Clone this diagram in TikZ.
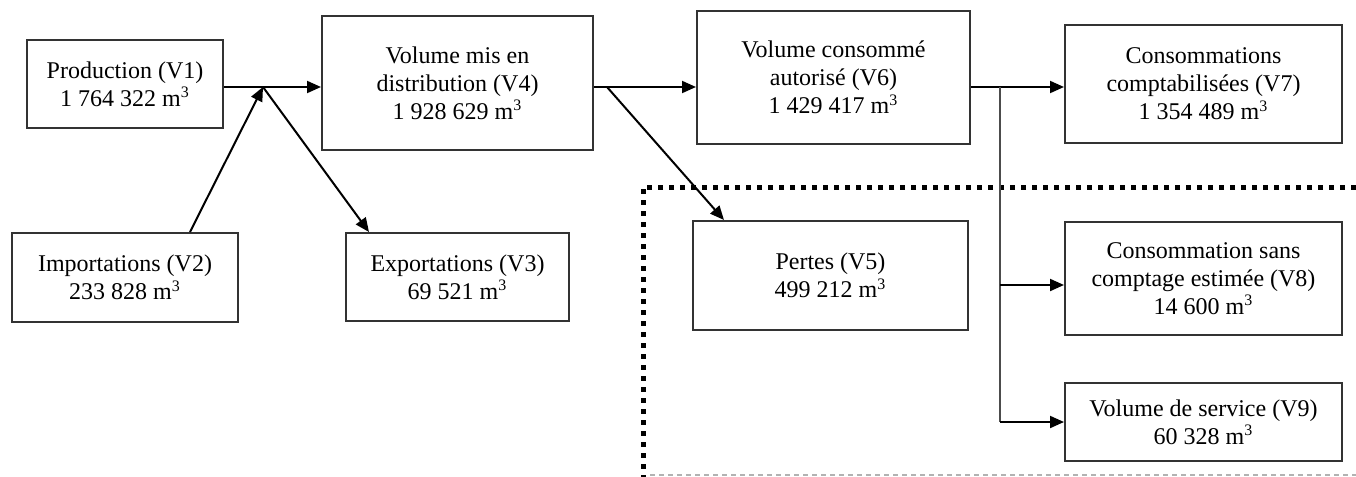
\documentclass[tikz,border=0pt]{standalone}
\usepackage{fontspec}
\setmainfont{Liberation Serif}
\usetikzlibrary{arrows.meta,calc}
\begin{document}
\begin{tikzpicture}[x=0.5pt,y=-0.5pt,
  box/.style={draw=black!80,line width=1pt,fill=white,align=center,inner sep=0pt,
    font=\fontsize{12}{14}\selectfont},
  arr/.style={draw=black,line width=1pt,-{Triangle[length=7pt,width=6pt]}},
  vln/.style={draw=black!70,line width=1pt},
  dotframe/.style={draw=black,line width=2.5pt,dash pattern=on 2.5pt off 3pt},
  bottomdash/.style={draw=black!30,line width=0.8pt,dash pattern=on 2.5pt off 2pt}]
\useasboundingbox (0,0) rectangle (1356,477);
% dotted frame
\draw[dotframe] (1356,187) -- (643,187) -- (643,477);
\draw[bottomdash] (650,475) -- (1356,475);
% boxes
\node[box,minimum width=98pt,minimum height=44pt] (V1) at (125,84) {Production (V1)\\1 764 322 m\textsuperscript{3}};
\node[box,minimum width=113pt,minimum height=44.5pt] (V2) at (125,277.5) {Importations (V2)\\233 828 m\textsuperscript{3}};
\node[box,minimum width=111.5pt,minimum height=44pt] (V3) at (457.5,277) {Exportations (V3)\\69 521 m\textsuperscript{3}};
\node[box,minimum width=135.5pt,minimum height=67pt] (V4) at (457.5,83) {Volume mis en\\distribution (V4)\\1 928 629 m\textsuperscript{3}};
\node[box,minimum width=137.5pt,minimum height=54.5pt] (V5) at (830.5,275.5) {Pertes (V5)\\499 212 m\textsuperscript{3}};
\node[box,minimum width=136.5pt,minimum height=66.5pt] (V6) at (833.5,77.5) {\raisebox{-2pt}{\parbox{130pt}{\centering Volume consommé\\autorisé (V6)\\1 429 417 m\textsuperscript{3}}}};
\node[box,minimum width=138.5pt,minimum height=59pt] (V7) at (1203.5,84) {Consommations\\comptabilisées (V7)\\1 354 489 m\textsuperscript{3}};
\node[box,minimum width=138.5pt,minimum height=56.5pt] (V8) at (1203.5,278.5) {Consommation sans\\comptage estimée (V8)\\14 600 m\textsuperscript{3}};
\node[box,minimum width=138.5pt,minimum height=39pt] (V9) at (1203.5,422) {Volume de service (V9)\\60 328 m\textsuperscript{3}};
% junctions
\coordinate (J1) at (263,87);
\coordinate (J2) at (607,87);
\coordinate (J3) at (1000,87);
% connectors
\draw[arr] (V1.east |- J1) -- (V4.west |- J1);
\draw[arr] ($(V2.north)+(65,0)$) -- (J1);
\draw[arr] (J1) -- ($(V3.north west)+(24,0)$);
\draw[arr] (V4.east |- J2) -- (V6.west |- J2);
\draw[arr] (J2) -- ($(V5.north west)+(32,0)$);
\draw[arr] (V6.east |- J3) -- (V7.west |- J3);
\draw[vln] (J3) -- (J3 |- V9.west);
\draw[arr] (J3 |- V9.west) -- (V9.west);
\draw[arr] ($(J3 |- V8.west)+(0,6.5)$) -- ($(V8.west)+(0,6.5)$);
\end{tikzpicture}
\end{document}
